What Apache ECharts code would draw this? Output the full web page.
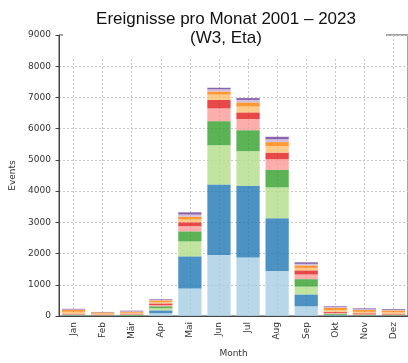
<!DOCTYPE html>
<html>
<head>
<meta charset="utf-8">
<script src="https://cdn.jsdelivr.net/npm/echarts@6/dist/echarts.min.js"></script>
<style>
  html, body { margin: 0; padding: 0; background: #fff; }
  #chart { width: 408px; height: 363px; }
</style>
</head>
<body>
<div id="chart"></div>
<script>
// Months on the x axis
const months = ['Jan', 'Feb', 'Mär', 'Apr', 'Mai', 'Jun', 'Jul', 'Aug', 'Sep', 'Okt', 'Nov', 'Dez'];

// Stacked event counts per month, bottom segment first
const seg1 = [5, 0, 5, 90, 880, 1950, 1870, 1440, 310, 10, 5, 5];
const seg2 = [10, 5, 5, 90, 1030, 2260, 2300, 1690, 380, 15, 5, 5];
const seg3 = [10, 5, 10, 70, 480, 1260, 1110, 990, 250, 15, 10, 5];
const seg4 = [15, 10, 20, 60, 320, 770, 670, 560, 240, 30, 15, 15];
const seg5 = [15, 10, 15, 40, 170, 410, 360, 340, 150, 30, 20, 20];
const seg6 = [20, 15, 20, 50, 120, 270, 210, 210, 130, 30, 30, 25];
const seg7 = [60, 35, 30, 50, 90, 170, 190, 210, 80, 60, 50, 50];
const seg8 = [60, 35, 30, 50, 90, 100, 130, 130, 80, 70, 60, 50];
const seg9 = [15, 5, 15, 20, 70, 70, 80, 90, 50, 25, 25, 20];
const seg10 = [20, 10, 20, 20, 70, 50, 60, 80, 50, 25, 25, 25];

// y-axis ticks
const yTicks = [0, 1000, 2000, 3000, 4000, 5000, 6000, 7000, 8000, 9000];

const segments = [seg1, seg2, seg3, seg4, seg5, seg6, seg7, seg8, seg9, seg10];
const palette = ['#a6cee3', '#1f78b4', '#b2df8a', '#33a02c', '#fb9a99',
                 '#e31a1c', '#fdbf6f', '#ff7f00', '#cab2d6', '#6a3d9a'];

const chart = echarts.init(document.getElementById('chart'), null, { renderer: 'canvas' });

const series = segments.map((vals, i) => ({
  name: 'Gruppe ' + (i + 1),
  type: 'bar',
  stack: 'total',
  barWidth: '80%',
  data: vals,
  itemStyle: { color: palette[i], opacity: 0.8 },
  emphasis: { disabled: true }
}));

const tickFont = { fontFamily: 'DejaVu Sans', fontSize: 9, color: '#333' };

chart.setOption({
  animation: false,
  backgroundColor: '#fff',
  grid: {
    left: 55, top: 35, width: 355, height: 282.7,
    show: true, borderColor: '#444', borderWidth: 1, backgroundColor: 'transparent'
  },
  xAxis: {
    type: 'category',
    data: months,
    name: 'Month',
    nameLocation: 'middle',
    nameGap: 33,
    nameTextStyle: tickFont,
    axisLine: { lineStyle: { color: '#444', width: 1 } },
    axisTick: { alignWithLabel: true, length: 3.5, lineStyle: { color: '#444' } },
    axisLabel: Object.assign({ rotate: 90, margin: 6, interval: 0 }, tickFont),
    splitLine: { show: true, alignWithLabel: true, lineStyle: { color: '#c8c8c8', type: [2, 2], width: 1 } }
  },
  yAxis: {
    type: 'value',
    min: yTicks[0], max: yTicks[yTicks.length - 1], interval: yTicks[1] - yTicks[0],
    name: 'Events',
    nameLocation: 'middle',
    nameGap: 42,
    nameTextStyle: tickFont,
    axisLine: { show: true, lineStyle: { color: '#444', width: 1 } },
    axisTick: { show: true, length: 3.5, lineStyle: { color: '#444' } },
    axisLabel: Object.assign({ margin: 8, formatter: v => String(v) }, tickFont),
    splitLine: { show: true, lineStyle: { color: '#c8c8c8', type: [2, 2], width: 1 } }
  },
  series: series,
  graphic: [
    {
      type: 'rect',
      z: 100,
      shape: { x: 63, y: 0, width: 323, height: 58 },
      style: { fill: '#fff' }
    },
    {
      type: 'text',
      z: 101,
      x: 226, y: 19,
      style: {
        text: 'Ereignisse pro Monat 2001 – 2023',
        fontFamily: 'Liberation Sans', fontSize: 17, fill: '#111',
        textAlign: 'center', textVerticalAlign: 'middle'
      }
    },
    {
      type: 'text',
      z: 101,
      x: 226, y: 38,
      style: {
        text: '(W3, Eta)',
        fontFamily: 'Liberation Sans', fontSize: 17, fill: '#111',
        textAlign: 'center', textVerticalAlign: 'middle'
      }
    }
  ]
});
</script>
</body>
</html>
